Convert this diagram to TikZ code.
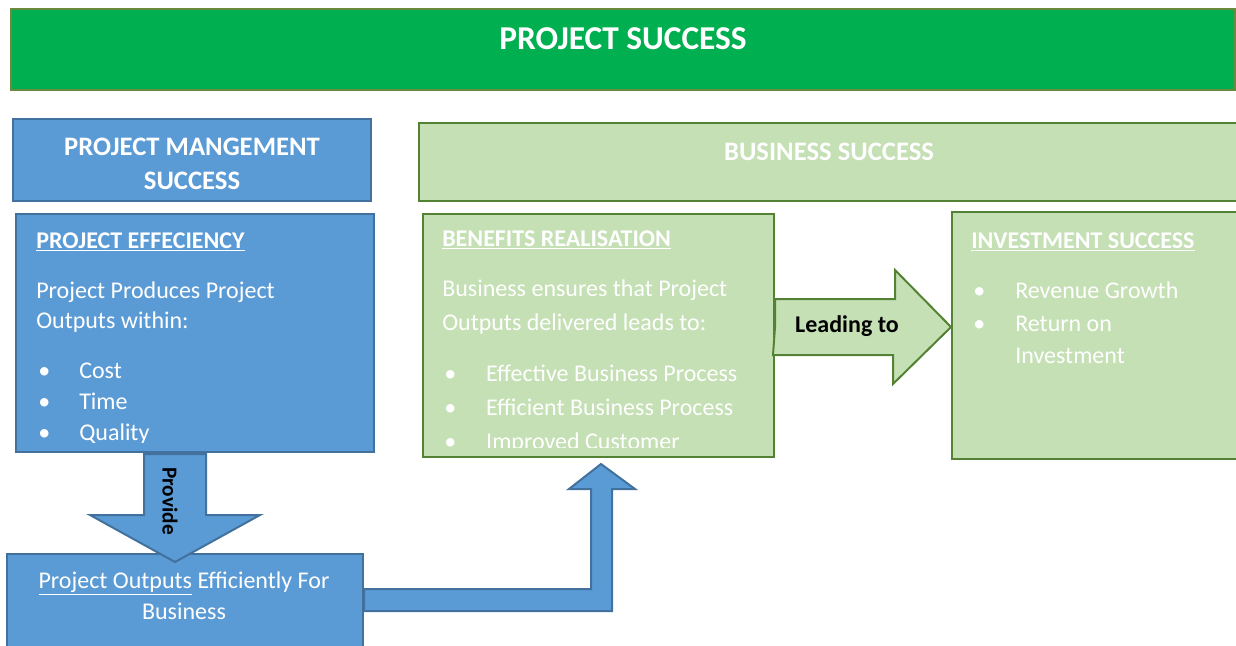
\documentclass[tikz,border=0pt]{standalone}
\usepackage{fontspec}
\setmainfont{Carlito}
\usetikzlibrary{positioning,calc}
\definecolor{topgreen}{HTML}{00B050}
\definecolor{topline}{HTML}{6A8A3E}
\definecolor{pmblue}{HTML}{5B9BD5}
\definecolor{pmline}{HTML}{41719C}
\definecolor{bsgreen}{HTML}{C5E0B4}
\definecolor{bsline}{HTML}{548235}

\begin{document}
\begin{tikzpicture}[x=0.75pt,y=-0.75pt,
  box/.style={draw,line width=1.5pt,inner sep=0,anchor=north west},
  pmbox/.style={box,fill=pmblue,draw=pmline},
  bsbox/.style={box,fill=bsgreen,draw=bsline},
  blk/.style={fill=pmblue,draw=pmline,line width=1.5pt,line join=miter},
  bigtitle/.style={font=\fontsize{20}{25.5}\bfseries,text=white,inner sep=0,anchor=base},
  hd/.style={font=\fontsize{18}{22}\bfseries,text=white,inner sep=0,anchor=base west},
  tx/.style={font=\fontsize{18}{22}\selectfont,text=white,inner sep=0,anchor=base west}]
\useasboundingbox (0,0) rectangle (1236,646);

% boxes
\node[box,fill=topgreen,draw=topline,minimum width=918pt,minimum height=60.75pt] (top) at (10,8) {};
\node[pmbox,minimum width=268.5pt,minimum height=61.5pt] (pms) at (12,118) {};
\node[bsbox,minimum width=622.5pt,minimum height=58.5pt] (bus) at (418,122) {};
\node[pmbox,minimum width=268.5pt,minimum height=178.5pt] (eff) at (15,213) {};
\node[bsbox,minimum width=263.25pt,minimum height=182.25pt] (ben) at (422,213) {};
\node[bsbox,minimum width=225pt,minimum height=185.25pt] (inv) at (951,211) {};
\node[pmbox,minimum width=267pt,minimum height=82.5pt] (outp) at (6,553) {};

% titles
\node[bigtitle,font=\fontsize{25}{30}\bfseries] (toptxt) at ($(top.north)+(0,41)$) {PROJECT SUCCESS};
\node[bigtitle] (pmstxt1) at ($(pms.north)+(0,37)$) {PROJECT MANGEMENT};
\node[bigtitle] (pmstxt2) at ($(pms.north)+(0,71)$) {SUCCESS};
\node[bigtitle] (bustxt) at ($(bus.north west)+(411,38)$) {BUSINESS SUCCESS};

% project efficiency
\begin{scope}
\clip (eff.north west) rectangle ($(eff.south east)+(0,-11)$);
\node[hd] (effhd) at ($(eff.north west)+(21,35)$) {\underline{PROJECT EFFECIENCY}};
\foreach \t [count=\i] in {Project Produces Project,Outputs within:}
  \node[tx] (effl\i) at ($(eff.north west)+(21,55+30*\i)$) {\t};
\foreach \t [count=\i] in {Cost,Time,Quality}
  \node[tx] (effb\i) at ($(eff.north west)+(23,134+31*\i)$) {\makebox[30.75pt][l]{\textbullet}\t};
\end{scope}

% benefits realisation
\begin{scope}
\clip (ben.north west) rectangle ($(ben.south east)+(0,-11)$);
\node[hd] (benhd) at ($(ben.north west)+(20,33)$) {\underline{BENEFITS REALISATION}};
\foreach \t [count=\i] in {Business ensures that Project,Outputs delivered leads to:}
  \node[tx] (benl\i) at ($(ben.north west)+(20,49+34*\i)$) {\t};
\foreach \t [count=\i] in {Effective Business Process,Efficient Business Process,Improved Customer}
  \node[tx] (benb\i) at ($(ben.north west)+(22,134+34*\i)$) {\makebox[31.5pt][l]{\textbullet}\t};
\end{scope}

% investment success
\node[hd] (invhd) at ($(inv.north west)+(20,37)$) {\underline{INVESTMENT SUCCESS}};
\node[tx] (invb1) at ($(inv.north west)+(22,87)$) {\makebox[31.5pt][l]{\textbullet}Revenue Growth};
\node[tx] (invb2) at ($(inv.north west)+(22,120)$) {\makebox[31.5pt][l]{\textbullet}Return on};
\node[tx] (invb3) at ($(inv.north west)+(64,152)$) {Investment};

% project outputs
\node[tx,anchor=base] (outl1) at ($(outp.north west)+(178,35)$) {\underline{Project Outputs} Efficiently For};
\node[tx,anchor=base] (outl2) at ($(outp.north west)+(178,66)$) {Business};

% block arrows
\coordinate (pv) at ($(eff.south west)+(160,1)$);
\filldraw[blk] (pv) -- ++(31,0) -- ++(0,61) -- ++(54,0) -- ++(-85,47) -- ++(-85,-47) -- ++(54,0) -- ++(0,-61) -- cycle;
\node[font=\fontsize{16}{19}\bfseries,rotate=-90,inner sep=0] (prov) at ($(pv)+(-5,47)$) {Provide};

\coordinate (bv) at ($(outp.north east)+(0,36)$);
\filldraw[blk] (bv) -- ++(227,0) -- ++(0,-100) -- ++(-22,0) -- ++(32,-25) -- ++(34,25) -- ++(-23,0) -- ++(0,122) -- ++(-248,0) -- cycle;

\coordinate (lv) at ($(ben.north east)+(0,114)$);
\filldraw[bsbox,fill=bsgreen,draw=bsline,line width=1.5pt] (lv) -- ++(0,-28) -- ++(120,0) -- ++(0,-29) -- (inv.west |- lv) -- ++(-58,57) -- ++(0,-29) -- ++(-120,0) -- cycle;
\node[font=\fontsize{18}{22}\bfseries,inner sep=0] (lead) at ($(lv)+(72,-1)$) {Leading to};
\end{tikzpicture}
\end{document}
